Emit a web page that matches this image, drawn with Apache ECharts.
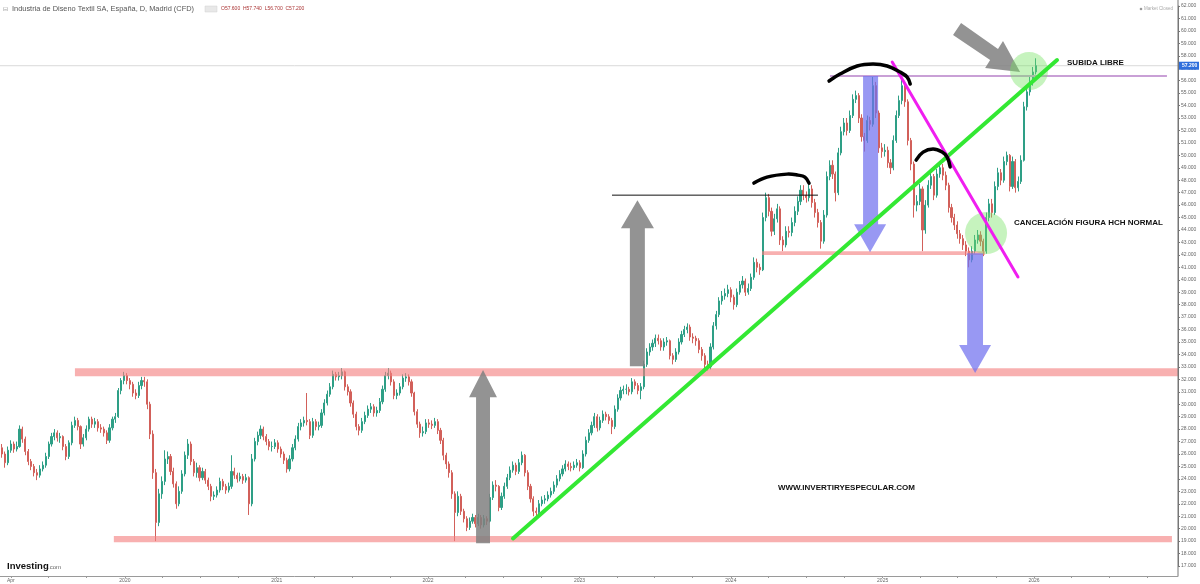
<!DOCTYPE html>
<html><head><meta charset="utf-8">
<script src="https://cdn.jsdelivr.net/npm/echarts@6/dist/echarts.min.js"></script>
<style>html,body{margin:0;padding:0;background:#fff}#c{width:1200px;height:584px}</style>
</head><body><div id="c"></div>
<script>
// ---------- DATA ----------
const firstWeek = [2019, 2, 4];            // Monday of the first weekly candle (4 Mar 2019)
// weekly candles: [open, close, low, high]
const ohlc = [
[26.8,26.5,26.1,27.1],[26.5,26.0,25.7,26.8],[26.0,25.3,24.9,26.2],[25.3,26.3,25.1,26.6],[26.3,26.8,26.1,27.1],[26.8,26.4,26.1,27.0],
[26.4,26.6,26.2,27.0],[26.6,28.0,26.5,28.3],[28.0,27.2,26.9,28.2],[27.2,26.2,25.9,27.4],[26.2,25.4,25.1,26.4],[25.4,25.0,24.7,25.6],
[25.0,24.5,24.2,25.2],[24.5,24.3,23.9,24.8],[24.3,24.8,24.1,25.1],[24.8,25.1,24.6,25.4],[25.1,25.8,24.9,26.1],[25.8,26.8,25.6,27.0],
[26.8,27.4,26.6,27.7],[27.4,27.7,27.1,28.0],[27.7,27.3,27.0,27.9],[27.3,27.4,26.9,27.7],[27.4,26.6,26.3,27.5],[26.6,25.8,25.5,26.8],
[25.8,26.9,25.6,27.1],[26.9,28.3,26.7,28.6],[28.3,28.7,28.1,29.0],[28.7,28.2,27.9,28.9],[28.2,26.8,26.4,28.3],[26.8,27.3,26.6,27.6],
[27.3,28.0,27.1,28.3],[28.0,28.8,27.8,29.0],[28.8,28.4,28.1,29.0],[28.4,28.6,28.1,28.9],[28.6,28.1,27.8,28.8],[28.1,28.0,27.7,28.4],
[28.0,27.7,27.4,28.2],[27.7,27.1,26.8,27.9],[27.1,28.1,26.9,28.4],[28.1,28.8,27.9,29.0],[28.8,29.0,28.5,29.3],[29.0,31.1,28.9,31.3],
[31.1,31.9,30.8,32.1],[31.9,32.3,31.6,32.6],[32.3,31.9,31.6,32.5],[31.9,31.6,31.2,32.1],[31.6,30.9,30.6,31.8],[30.9,30.7,30.4,31.2],
[30.7,31.5,30.5,31.8],[31.5,31.9,31.2,32.2],[31.9,31.8,31.4,32.2],[31.8,30.0,29.6,32.0],[30.0,27.6,27.2,30.2],[27.6,24.5,24.0,27.9],
[24.5,20.5,19.0,24.8],[20.5,22.8,20.2,23.2],[22.8,23.8,22.4,24.2],[23.8,25.6,23.5,26.3],[25.6,25.8,25.2,26.2],[25.8,24.6,24.3,26.0],
[24.6,23.6,23.3,24.9],[23.6,22.0,21.6,23.8],[22.0,23.0,21.8,23.4],[23.0,24.4,22.8,24.7],[24.4,25.9,24.2,26.2],[25.9,26.8,25.6,27.2],
[26.8,25.4,25.1,27.0],[25.4,24.5,24.2,25.6],[24.5,24.9,24.1,25.3],[24.9,24.1,23.8,25.1],[24.1,24.6,23.9,24.9],[24.6,23.9,23.6,24.8],
[23.9,23.4,23.1,24.1],[23.4,22.6,22.2,23.6],[22.6,22.7,22.3,23.0],[22.7,23.1,22.5,23.4],[23.1,23.8,22.9,24.1],[23.8,23.4,23.1,24.0],
[23.4,23.1,22.8,23.6],[23.1,23.4,22.9,23.7],[23.4,24.6,23.2,25.9],[24.6,24.3,24.0,24.9],[24.3,24.0,23.7,24.5],[24.0,24.2,23.8,24.5],
[24.2,23.9,23.6,24.4],[23.9,24.1,23.7,24.4],[24.1,22.0,21.1,24.2],[22.0,25.6,21.8,26.0],[25.6,27.0,25.4,27.3],[27.0,27.5,26.7,27.8],
[27.5,28.0,27.2,28.3],[28.0,27.4,27.1,28.2],[27.4,27.0,26.7,27.6],[27.0,26.6,26.3,27.2],[26.6,26.6,26.2,27.0],[26.6,26.9,26.4,27.2],
[26.9,26.4,26.1,27.1],[26.4,26.0,25.7,26.6],[26.0,25.5,25.2,26.2],[25.5,24.8,24.5,25.7],[24.8,25.6,24.6,25.9],[25.6,26.5,25.4,26.8],
[26.5,27.2,26.3,27.5],[27.2,28.2,27.0,28.5],[28.2,28.5,27.9,28.8],[28.5,28.7,28.2,29.0],[28.7,28.6,28.3,30.9],[28.6,27.5,27.2,28.8],
[27.5,28.6,27.3,28.9],[28.6,28.2,27.9,28.8],[28.2,28.3,27.9,28.6],[28.3,29.3,28.1,29.6],[29.3,30.1,29.1,30.4],[30.1,30.8,29.9,31.1],
[30.8,31.4,30.6,31.7],[31.4,32.4,31.2,32.7],[32.4,32.2,31.9,32.6],[32.2,32.3,31.9,32.6],[32.3,32.6,32.0,32.9],[32.6,31.4,31.1,32.7],
[31.4,31.0,30.7,31.6],[31.0,30.1,29.8,31.2],[30.1,29.2,28.9,30.3],[29.2,28.2,27.9,29.4],[28.2,27.9,27.5,28.4],[27.9,28.6,27.7,28.9],
[28.6,29.1,28.4,29.4],[29.1,29.6,28.9,29.9],[29.6,29.8,29.3,30.1],[29.8,29.3,29.0,30.0],[29.3,29.5,29.0,29.8],[29.5,30.2,29.3,30.5],
[30.2,31.2,30.0,31.5],[31.2,32.3,31.0,32.6],[32.3,32.5,32.0,32.9],[32.5,31.8,31.5,32.7],[31.8,30.7,30.4,32.0],[30.7,30.9,30.4,31.2],
[30.9,31.4,30.7,31.7],[31.4,32.1,31.2,32.4],[32.1,32.2,31.8,32.5],[32.2,31.8,31.5,32.4],[31.8,30.9,30.6,32.0],[30.9,29.4,29.1,31.0],
[29.4,28.4,28.1,29.6],[28.4,27.7,27.3,28.6],[27.7,27.8,27.4,28.2],[27.8,28.5,27.6,28.8],[28.5,28.4,28.1,28.8],[28.4,28.3,28.0,28.7],
[28.3,28.6,28.1,28.9],[28.6,27.9,27.6,28.8],[27.9,27.1,26.8,28.1],[27.1,25.9,25.5,27.3],[25.9,25.2,24.8,26.1],[25.2,24.5,24.1,25.4],
[24.5,22.8,22.4,24.7],[22.8,21.3,19.0,23.0],[21.3,22.6,21.0,23.0],[22.6,21.4,21.1,22.8],[21.4,20.8,20.5,21.6],[20.8,20.1,19.8,21.0],
[20.1,20.6,19.9,20.9],[20.6,20.9,20.4,21.2],[20.9,20.4,20.1,21.1],[20.4,20.9,20.2,21.2],[20.9,20.3,20.0,21.1],[20.3,20.8,20.1,21.1],
[20.8,20.6,20.3,21.0],[20.6,22.5,20.5,22.8],[22.5,23.5,22.3,23.8],[23.5,23.4,23.0,23.9],[23.4,21.7,21.4,23.5],[21.7,22.6,21.5,22.9],
[22.6,23.4,22.4,23.7],[23.4,24.1,23.2,24.4],[24.1,24.7,23.9,25.0],[24.7,25.1,24.5,25.4],[25.1,24.6,24.3,25.3],[24.6,25.3,24.4,25.6],
[25.3,25.9,25.1,26.2],[25.9,24.5,24.2,26.0],[24.5,23.4,23.1,24.7],[23.4,22.4,22.1,23.6],[22.4,21.4,21.0,22.6],[21.4,21.3,20.8,21.7],
[21.3,22.0,21.1,22.3],[22.0,22.3,21.8,22.6],[22.3,22.4,22.0,22.7],[22.4,22.7,22.2,23.0],[22.7,23.0,22.5,23.3],[23.0,23.5,22.8,23.8],
[23.5,24.0,23.3,24.3],[24.0,24.4,23.8,24.7],[24.4,24.8,24.2,25.1],[24.8,25.2,24.6,25.5],[25.2,25.0,24.7,25.4],[25.0,24.9,24.6,25.3],
[24.9,25.1,24.7,25.4],[25.1,25.3,24.9,25.6],[25.3,24.9,24.6,25.5],[24.9,26.0,24.8,26.3],[26.0,27.1,25.8,27.4],[27.1,27.7,26.9,28.0],
[27.7,28.3,27.5,28.6],[28.3,29.0,28.1,29.3],[29.0,28.1,27.8,29.2],[28.1,28.7,27.9,29.0],[28.7,29.2,28.5,29.5],[29.2,29.0,28.7,29.4],
[29.0,28.7,28.4,29.2],[28.7,28.2,27.6,28.9],[28.2,29.6,28.0,29.9],[29.6,30.5,29.4,30.8],[30.5,31.1,30.3,31.4],[31.1,31.2,30.8,31.5],
[31.2,31.2,30.8,31.6],[31.2,31.0,30.7,31.4],[31.0,31.8,30.8,32.1],[31.8,31.5,31.2,32.0],[31.5,31.1,30.8,31.7],[31.1,31.4,30.4,31.7],
[31.4,33.2,31.2,33.5],[33.2,34.2,33.0,34.5],[34.2,34.6,33.9,34.9],[34.6,34.9,34.3,35.2],[34.9,35.3,34.6,35.6],[35.3,35.1,34.8,35.6],
[35.1,34.6,34.3,35.3],[34.6,35.0,34.3,35.3],[35.0,35.1,34.7,35.4],[35.1,33.9,33.6,35.2],[33.9,33.6,33.2,34.1],[33.6,34.2,33.4,34.5],
[34.2,35.0,34.0,35.3],[35.0,35.6,34.8,35.9],[35.6,36.0,35.4,36.3],[36.0,36.2,35.7,36.5],[36.2,35.4,35.1,36.4],[35.4,35.3,34.9,35.7],
[35.3,35.1,34.7,35.5],[35.1,34.4,34.1,35.3],[34.4,33.9,33.5,34.6],[33.9,33.2,32.9,34.1],[33.2,33.0,32.7,33.5],[33.0,34.6,32.8,34.9],
[34.6,36.3,34.4,36.6],[36.3,37.2,36.0,37.5],[37.2,38.3,37.0,38.6],[38.3,38.7,38.0,39.1],[38.7,38.9,38.4,39.3],[38.9,39.2,38.6,39.6],
[39.2,38.6,38.2,39.4],[38.6,38.0,37.6,38.8],[38.0,39.0,37.8,39.3],[39.0,39.6,38.8,39.9],[39.6,39.9,39.3,40.3],[39.9,39.0,38.7,40.1],
[39.0,39.3,38.8,39.7],[39.3,40.2,39.1,40.5],[40.2,41.4,40.0,41.8],[41.4,41.0,40.6,41.7],[41.0,40.8,40.4,41.3],[40.8,45.0,40.7,45.4],
[45.0,46.6,44.7,47.0],[46.6,45.5,45.1,46.9],[45.5,43.9,43.5,45.8],[43.9,44.9,43.6,45.3],[44.9,45.7,44.6,46.1],[45.7,43.2,42.8,45.9],
[43.2,42.8,42.3,43.5],[42.8,43.9,42.6,44.3],[43.9,43.8,43.4,44.3],[43.8,44.6,43.5,45.0],[44.6,45.5,44.3,45.9],[45.5,46.3,45.2,46.7],
[46.3,47.2,46.0,47.6],[47.2,46.8,46.4,47.6],[46.8,46.6,46.2,47.1],[46.6,47.3,46.3,47.7],[47.3,46.2,45.8,47.6],[46.2,45.4,45.0,46.5],
[45.4,44.6,44.2,45.7],[44.6,43.1,42.5,44.8],[43.1,45.2,42.9,45.6],[45.2,48.3,45.0,48.7],[48.3,49.2,48.0,49.6],[49.2,48.5,48.1,49.6],
[48.5,47.0,46.3,48.7],[47.0,50.2,46.8,50.6],[50.2,51.9,50.0,52.3],[51.9,52.6,51.6,53.0],[52.6,52.0,51.6,53.0],[52.0,53.2,51.8,53.6],
[53.2,54.5,53.0,54.9],[54.5,54.8,54.2,55.2],[54.8,53.0,52.6,55.0],[53.0,51.5,51.1,53.3],[51.5,51.2,50.3,51.8],[51.2,52.8,51.0,53.2],
[52.8,52.5,52.0,53.1],[52.5,55.6,52.3,56.3],[55.6,53.4,53.0,55.9],[53.4,50.6,50.2,53.6],[50.6,50.3,49.8,51.0],[50.3,50.4,49.9,50.9],
[50.4,49.4,49.0,50.7],[49.4,49.0,48.5,49.7],[49.0,51.2,48.8,51.6],[51.2,53.2,51.0,53.6],[53.2,54.4,53.0,54.8],[54.4,55.6,54.1,56.1],
[55.6,54.3,53.9,55.9],[54.3,51.2,50.8,54.5],[51.2,49.3,48.8,51.4],[49.3,46.0,45.0,49.5],[46.0,46.3,45.5,46.8],[46.3,47.3,46.0,47.7],
[47.3,44.0,42.3,47.5],[44.0,46.0,43.7,46.4],[46.0,47.6,45.8,48.0],[47.6,48.3,47.3,48.8],[48.3,46.8,46.4,48.5],[46.8,48.5,46.6,48.9],
[48.5,49.0,48.2,49.5],[49.0,48.4,48.0,49.3],[48.4,47.6,47.2,48.7],[47.6,45.8,45.4,47.8],[45.8,45.0,44.6,46.1],[45.0,44.4,44.0,45.3],
[44.4,43.7,43.3,44.7],[43.7,43.3,42.9,44.0],[43.3,42.8,42.4,43.6],[42.8,42.3,41.9,43.1],[42.3,41.6,41.0,42.6],[41.6,42.3,41.4,42.7],
[42.3,43.2,42.1,43.6],[43.2,43.6,42.9,44.0],[43.6,43.1,42.7,43.9],[43.1,42.3,41.9,43.3],[42.3,45.0,42.1,45.4],[45.0,46.1,44.7,46.5],
[46.1,45.4,45.0,46.5],[45.4,47.5,45.2,47.9],[47.5,48.6,47.2,49.0],[48.6,48.0,47.6,48.9],[48.0,49.5,47.8,49.9],[49.5,50.0,49.2,50.3],
[50.0,47.5,47.1,50.1],[47.5,49.5,47.3,49.9],[49.5,47.4,47.0,49.7],[47.4,47.9,47.1,48.3],[47.9,49.6,47.7,50.0],[49.6,53.9,49.5,54.3],
[53.9,55.1,53.6,55.5],[55.1,55.9,54.8,56.3],[55.9,56.7,55.6,57.1],[56.7,57.2,56.5,57.8]
];
const lastQuote = {o:'57.600', h:'57.740', l:'56.700', c:'57.200', value:57.2};
const titleText = 'Industria de Diseno Textil SA, España, D, Madrid (CFD)';
const xLabelDates = [[2019,3],[2020,0],[2021,0],[2022,0],[2023,0],[2024,0],[2025,0],[2026,0]];
const monthNames = ['Jan','Feb','Mar','Apr','May','Jun','Jul','Aug','Sep','Oct','Nov','Dec'];
const yMin = 17, yMax = 62;
const xStartYear = 2019.175, xEndYear = 2026.951;   // visible time window (decimal years)

// annotations: [decimalYear, price] anchors
const hBands = [ // [fromYear, toYear, lowPrice, highPrice]
  [2019.670, 2026.951, 32.25, 32.90],
  [2019.927, 2026.911, 18.90, 19.42],
  [2024.205, 2025.677, 42.00, 42.30]
];
const purpleLevel = [2024.653, 2026.878, 56.37];
const blackLevel = [2023.215, 2024.574, 46.8];
const greenTrend = [[2022.561, 19.21], [2026.152, 57.66]];
const magentaTrend = [[2025.063, 57.50], [2025.894, 40.22]];
const arcs = [
  [[2024.152,47.77],[2024.238,48.25],[2024.370,48.49],[2024.442,48.41],[2024.488,48.25],[2024.515,47.77]],
  [[2024.647,55.97],[2024.719,56.53],[2024.832,57.18],[2024.937,57.34],[2025.030,57.18],[2025.115,56.69],[2025.162,56.29],[2025.182,55.73]],
  [[2025.221,49.62],[2025.267,50.26],[2025.333,50.50],[2025.393,50.26],[2025.426,49.86],[2025.446,49.06]]
];
// vertical arrows: [shaftLeft, shaftRight, headLeft, headRight, tipYear, basePrice, headBasePrice, tipPrice]
const grayArrows = [
  [2022.317, 2022.409, 2022.271, 2022.455, 2022.363, 18.83, 30.57, 32.74],
  [2023.333, 2023.432, 2023.274, 2023.492, 2023.383, 33.06, 44.15, 46.40]
];
const blueArrows = [
  [2024.871, 2024.970, 2024.812, 2025.023, 2024.917, 56.37, 44.47, 42.22],
  [2025.558, 2025.663, 2025.505, 2025.716, 2025.611, 42.14, 34.75, 32.50]
];
const diagArrow = [[2025.518,60.63],[2025.762,58.54],[2025.795,59.19],[2025.908,56.69],[2025.677,57.02],[2025.710,57.66],[2025.465,59.67]];
const circles = [[2025.967, 56.77, 19], [2025.683, 43.75, 21]];
const notes = [
  ['SUBIDA LIBRE', 2026.218, 57.42],
  ['CANCELACIÓN FIGURA HCH NORMAL', 2025.868, 44.56],
  ['WWW.INVERTIRYESPECULAR.COM', 2024.310, 23.25]
];

// ---------- BUILD ----------
const DAY = 864e5;
const t0 = new Date(firstWeek[0], firstWeek[1], firstWeek[2]).getTime();
const candles = ohlc.map((v, i) => [t0 + i * 7 * DAY, v[0], v[1], v[2], v[3]]);
function dy(t) { const y = Math.floor(t); const a = new Date(y,0,1).getTime(); const b = new Date(y+1,0,1).getTime(); return a + (t - y) * (b - a); }
const labelVals = xLabelDates.map(d => new Date(d[0], d[1], 1).getTime());
const tickVals = [];
for (let y = 2019; y <= 2026; y++) for (let m = 0; m < 12; m += 3) { const v = new Date(y, m, 1).getTime(); if (v > dy(xStartYear) && v < dy(xEndYear)) tickVals.push(v); }

const FONT = 'Liberation Sans, Arial, sans-serif';
const chart = echarts.init(document.getElementById('c'));
chart.setOption({
  animation: false,
  backgroundColor: '#fff',
  grid: { left: 0, right: 22, top: 6, bottom: 18 },
  xAxis: {
    type: 'value', min: dy(xStartYear), max: dy(xEndYear), offset: 10, scale: true,
    axisLine: { lineStyle: { color: '#9a9a9a', width: 1 } },
    axisTick: { show: true, customValues: tickVals, length: 2, lineStyle: { color: '#9a9a9a' } },
    axisLabel: { customValues: labelVals, fontSize: 5, color: '#666', margin: 2, fontFamily: FONT, showMinLabel: true, showMaxLabel: true,
      formatter: v => { const d = new Date(v); return d.getMonth() === 0 ? String(d.getFullYear()) : monthNames[d.getMonth()]; } },
    splitLine: { show: false }
  },
  yAxis: {
    type: 'value', position: 'right', min: yMin, max: yMax, interval: 1,
    axisLine: { show: true, lineStyle: { color: '#777' } },
    axisTick: { show: true, length: 2, lineStyle: { color: '#777' } },
    axisLabel: { fontSize: 5, color: '#666', margin: 3, fontFamily: FONT, formatter: v => v.toFixed(3) },
    splitLine: { show: false }
  },
  series: [{
    type: 'candlestick', data: candles, barWidth: 1.6,
    itemStyle: { color: '#2e9f86', color0: '#d2605a', borderColor: '#2e9f86', borderColor0: '#d2605a', borderWidth: 1 }
  }]
});

function P(t, p) { return chart.convertToPixel({ xAxisIndex: 0, yAxisIndex: 0 }, [dy(t), p]); }
const g = [];
const x0 = chart.convertToPixel({ xAxisIndex: 0 }, dy(xStartYear));
const x1 = chart.convertToPixel({ xAxisIndex: 0 }, dy(xEndYear));
// last price line
const lp = chart.convertToPixel({ yAxisIndex: 0 }, lastQuote.value);
g.push({ type: 'line', z: 1, shape: { x1: x0, y1: lp, x2: x1, y2: lp }, style: { stroke: '#d9d9d9', lineWidth: 1 } });
// horizontal bands
hBands.forEach(b => { const a = P(b[0], b[3]), c = P(b[1], b[2]);
  g.push({ type: 'rect', z: 5, shape: { x: a[0], y: a[1], width: c[0] - a[0], height: c[1] - a[1] }, style: { fill: 'rgba(243,128,128,0.62)' } }); });
// purple level
{ const a = P(purpleLevel[0], purpleLevel[2]), c = P(purpleLevel[1], purpleLevel[2]);
  g.push({ type: 'line', z: 5, shape: { x1: a[0], y1: a[1], x2: c[0], y2: c[1] }, style: { stroke: '#c9a0d6', lineWidth: 2 } }); }
// black level
{ const a = P(blackLevel[0], blackLevel[2]), c = P(blackLevel[1], blackLevel[2]);
  g.push({ type: 'line', z: 5, shape: { x1: a[0], y1: a[1], x2: c[0], y2: c[1] }, style: { stroke: '#111', lineWidth: 1 } }); }
// arrows
function vArrow(a, fill) {
  const pts = [P(a[0], a[5]), P(a[1], a[5]), P(a[1], a[6]), P(a[3], a[6]), P(a[4], a[7]), P(a[2], a[6]), P(a[0], a[6])];
  g.push({ type: 'polygon', z: 6, shape: { points: pts }, style: { fill: fill } });
}
grayArrows.forEach(a => vArrow(a, 'rgba(128,128,128,0.85)'));
blueArrows.forEach(a => vArrow(a, 'rgba(112,112,238,0.72)'));
g.push({ type: 'polygon', z: 6, shape: { points: diagArrow.map(q => P(q[0], q[1])) }, style: { fill: 'rgba(128,128,128,0.85)' } });
// circles
circles.forEach(c => { const q = P(c[0], c[1]);
  g.push({ type: 'circle', z: 6, shape: { cx: q[0], cy: q[1], r: c[2] }, style: { fill: 'rgba(120,226,100,0.42)' } }); });
// trend lines
{ const a = P(greenTrend[0][0], greenTrend[0][1]), c = P(greenTrend[1][0], greenTrend[1][1]);
  g.push({ type: 'line', z: 7, shape: { x1: a[0], y1: a[1], x2: c[0], y2: c[1] }, style: { stroke: '#33e833', lineWidth: 4, lineCap: 'round' } }); }
{ const a = P(magentaTrend[0][0], magentaTrend[0][1]), c = P(magentaTrend[1][0], magentaTrend[1][1]);
  g.push({ type: 'line', z: 7, shape: { x1: a[0], y1: a[1], x2: c[0], y2: c[1] }, style: { stroke: '#f01ef0', lineWidth: 3, lineCap: 'round' } }); }
// hand-drawn arcs
arcs.forEach(arc => g.push({ type: 'polyline', z: 7, shape: { points: arc.map(q => P(q[0], q[1])), smooth: 0.4 },
  style: { stroke: '#000', lineWidth: 3.5, lineCap: 'round', lineJoin: 'round', fill: null } }));
// notes
notes.forEach(n => { const q = P(n[1], n[2]);
  g.push({ type: 'text', z: 8, x: q[0], y: q[1], style: { text: n[0], fill: '#111', font: 'bold 8px ' + FONT, textVerticalAlign: 'middle' } }); });
// right axis: full-height line and last price tag
const axX = x1;
g.push({ type: 'line', z: 9, shape: { x1: axX, y1: 0, x2: axX, y2: 576 }, style: { stroke: '#777', lineWidth: 1 } });
g.push({ type: 'rect', z: 10, shape: { x: axX + 1, y: lp - 4, width: 20, height: 8 }, style: { fill: '#2f6fdc' } });
g.push({ type: 'text', z: 11, x: axX + 4, y: lp, style: { text: lastQuote.c, fill: '#fff', font: 'bold 5px ' + FONT, textVerticalAlign: 'middle' } });
// header
g.push({ type: 'text', z: 10, x: 3, y: 9, style: { text: '⊟', fill: '#999', font: '6px ' + FONT, textVerticalAlign: 'middle' } });
g.push({ type: 'text', z: 10, x: 12, y: 9, style: { text: titleText, fill: '#555', font: '7.4px ' + FONT, textVerticalAlign: 'middle' } });
g.push({ type: 'rect', z: 10, shape: { x: 205, y: 6, width: 12, height: 6 }, style: { fill: '#e8e8e8', stroke: '#d0d0d0', lineWidth: 0.5 } });
g.push({ type: 'text', z: 10, x: 221, y: 9, style: { text: 'O' + lastQuote.o + '  H' + lastQuote.h + '  L' + lastQuote.l + '  C' + lastQuote.c, fill: '#a33', font: '5px ' + FONT, textVerticalAlign: 'middle' } });
g.push({ type: 'circle', z: 10, shape: { cx: 1141, cy: 9, r: 1.3 }, style: { fill: '#999' } });
g.push({ type: 'text', z: 10, x: 1144, y: 9, style: { text: 'Market Closed', fill: '#aaa', font: '4.5px ' + FONT, textVerticalAlign: 'middle' } });
// Investing.com logo
g.push({ type: 'text', z: 10, x: 7, y: 566, style: { text: 'Investing', fill: '#111', font: 'bold 9.5px ' + FONT, textVerticalAlign: 'middle' } });
g.push({ type: 'text', z: 10, x: 48, y: 567, style: { text: '.com', fill: '#666', font: '6px ' + FONT, textVerticalAlign: 'middle' } });
chart.setOption({ graphic: { elements: g } });
</script></body></html>
